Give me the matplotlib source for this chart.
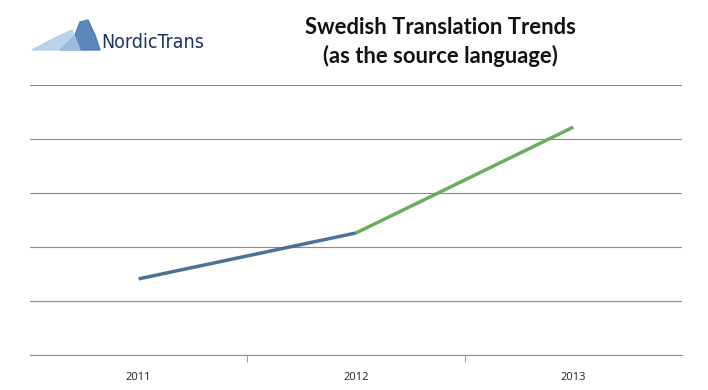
import matplotlib.pyplot as plt
import numpy as np
from matplotlib.patches import Polygon

years = ['2011', '2012', '2013']
volume = [1.41, 2.26, 4.22]

blue = '#4d7197'
green = '#6cad5b'

fig = plt.figure(figsize=(7.08, 3.9), dpi=100)
ax = fig.add_axes([30/708, 1 - 355/390, 652/708, 270/390])

x = np.arange(len(years))
# first segment blue, second green
ax.plot(x[:2], volume[:2], color=blue, lw=2.5, solid_capstyle='butt')
ax.plot(x[1:], volume[1:], color=green, lw=2.5, solid_capstyle='butt')

ax.set_xlim(-0.5, 2.5)
ax.set_ylim(0, 5)
ax.set_yticks(np.arange(0, 6))
ax.yaxis.grid(True, color='#8c8c8c', lw=0.8)
ax.set_axisbelow(True)
ax.tick_params(axis='y', left=False, labelleft=False)

ax.set_xticks(x)
ax.set_xticklabels(years, fontsize=8, color='#222222', family='Open Sans')
ax.tick_params(axis='x', length=0, pad=12)
ax.set_xticks([0.5, 1.5], minor=True)
ax.tick_params(axis='x', which='minor', length=5, color='#8c8c8c', direction='out')

for s in ['top', 'right', 'left']:
    ax.spines[s].set_visible(False)
ax.spines['bottom'].set_color('#8c8c8c')
ax.spines['bottom'].set_linewidth(0.8)

fig.text(440/708, 1 - 27/390, 'Swedish Translation Trends', ha='center', va='center',
         fontsize=15.8, fontweight='bold', family='Lato', color='#111111')
fig.text(440/708, 1 - 56/390, '(as the source language)', ha='center', va='center',
         fontsize=15.8, fontweight='bold', family='Lato', color='#111111')

# logo: iceberg shape and name
berg = Polygon([[60/708, 1 - 50/390], [75/708, 1 - 35/390], [80/708, 1 - 22/390],
                [88/708, 1 - 20/390], [95/708, 1 - 35/390], [100/708, 1 - 50/390]],
               closed=True, transform=fig.transFigure, color='#3f74b0', alpha=0.85)
fig.patches.append(berg)
spray = Polygon([[32/708, 1 - 50/390], [55/708, 1 - 38/390], [72/708, 1 - 30/390],
                 [80/708, 1 - 50/390]],
                closed=True, transform=fig.transFigure, color='#a9c8e8', alpha=0.8)
fig.patches.append(spray)
fig.text(101/708, 1 - 43/390, 'NordicTrans', ha='left', va='center', fontsize=14,
         family='DejaVu Sans', fontstretch='condensed', color='#1d3466')

fig.savefig('out.png', dpi=100)
